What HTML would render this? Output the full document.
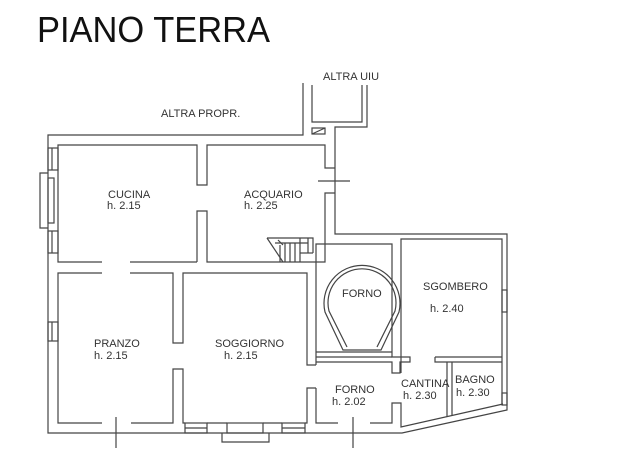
<!DOCTYPE html>
<html><head><meta charset="utf-8"><style>
html,body{margin:0;padding:0;background:#fff;}
svg{display:block;}
text{font-family:"Liberation Sans",Arial,sans-serif;fill:#333;}
.s{font-size:11px;}
</style></head><body>
<svg width="637" height="463" viewBox="0 0 637 463" xmlns="http://www.w3.org/2000/svg">
<text x="37" y="42" font-size="36" textLength="233" lengthAdjust="spacingAndGlyphs" style="fill:#111">PIANO TERRA</text>
<g fill="none" stroke="#444" stroke-width="1.2">
<!-- altra propr -->
<polyline points="303,83 303,135 48,135 48,433 402,433 507,410 507,234 335,234 335,127 367,127 367,85"/>
<polyline points="312,85 312,122 362,122 362,85"/>
<rect x="312" y="128" width="13" height="6"/><line x1="312" y1="134" x2="325" y2="128"/>
<!-- cucina -->
<polyline points="102,262 58,262 58,145 197,145 197,185 207,185 207,145 325,145 325,168 335,168"/>
<polyline points="197,262 197,211 207,211 207,262 325,262 325,193 335,193"/>
<line x1="318" y1="181" x2="350" y2="181"/>
<line x1="130" y1="262" x2="197" y2="262"/>
<!-- left windows -->
<rect x="48" y="148" width="10" height="22"/><line x1="52" y1="148" x2="52" y2="170"/>
<polyline points="48,173 40,173 40,228 48,228"/><rect x="48" y="178" width="6" height="45"/>
<rect x="48" y="231" width="10" height="22"/><line x1="52" y1="231" x2="52" y2="253"/>
<rect x="48" y="322" width="10" height="19"/><line x1="52" y1="322" x2="52" y2="341"/>
<!-- stairs -->
<polyline points="267,238 313,238 313,253"/><line x1="267" y1="238" x2="283" y2="262"/>
<line x1="278" y1="240" x2="283" y2="245"/><line x1="280" y1="245" x2="280" y2="262"/>
<line x1="285" y1="243" x2="285" y2="262"/><line x1="290" y1="243" x2="290" y2="262"/>
<line x1="295" y1="243" x2="295" y2="262"/><line x1="300" y1="238" x2="300" y2="262"/>
<line x1="275" y1="243" x2="308" y2="243"/><line x1="308" y1="238" x2="308" y2="253"/><line x1="300" y1="253" x2="313" y2="253"/>
<!-- pranzo/soggiorno -->
<polyline points="102,273 58,273 58,423 102,423"/>
<polyline points="131,423 173,423 173,369 183,369 183,423 185,423"/>
<polyline points="130,273 173,273 173,343 183,343 183,273 307,273 307,365 316,365"/>
<polyline points="316,388 307,388 307,423 305,423"/>
<rect x="185" y="423" width="22" height="10"/><line x1="185" y1="428" x2="207" y2="428"/>
<polyline points="222,433 222,442 269,442 269,433"/><rect x="227" y="423" width="36" height="10"/>
<line x1="207" y1="423" x2="227" y2="423"/><line x1="263" y1="423" x2="282" y2="423"/>
<rect x="282" y="423" width="23" height="10"/><line x1="282" y1="428" x2="305" y2="428"/>
<line x1="116" y1="417" x2="116" y2="448"/>
<line x1="353" y1="417" x2="353" y2="448"/>
<!-- forno enclosure -->
<polyline points="316,365 316,244 392,244 392,357 410,357 410,362 400,362 400,373 392,373 392,362 316,362 316,365"/>
<polyline points="316,352 392,352"/>
<line x1="316" y1="357" x2="392" y2="357"/>
<polyline points="316,388 316,423 338,423"/>
<polyline points="370,423 392,423 392,403 401,403 401,427 503,404"/>
<!-- arch -->
<path d="M343,350 L325,312 A38,38 0 1,1 399,312 L381,350 Z"/>
<path d="M347,347 L329,311 A34,34 0 1,1 395,311 L377,347"/>
<!-- sgombero -->
<polyline points="401,373 401,239 502,239 502,405"/>
<polyline points="435,357 502,357"/><polyline points="435,357 435,362 502,362"/>
<rect x="502" y="290" width="5" height="22"/><rect x="502" y="393" width="5" height="12"/>
<line x1="447" y1="362" x2="447" y2="417"/><line x1="452" y1="362" x2="452" y2="416"/>
</g>
<g class="s">
<text x="161" y="117">ALTRA PROPR.</text>
<text x="323" y="80">ALTRA UIU</text>
<text x="108" y="198">CUCINA</text><text x="107" y="209">h. 2.15</text>
<text x="244" y="198">ACQUARIO</text><text x="244" y="209">h. 2.25</text>
<text x="342" y="297">FORNO</text>
<text x="423" y="290">SGOMBERO</text><text x="430" y="312">h. 2.40</text>
<text x="94" y="347">PRANZO</text><text x="94" y="359">h. 2.15</text>
<text x="215" y="347">SOGGIORNO</text><text x="224" y="359">h. 2.15</text>
<text x="335" y="393">FORNO</text><text x="332" y="405">h. 2.02</text>
<text x="401" y="387">CANTINA</text><text x="403" y="399">h. 2.30</text>
<text x="455" y="383">BAGNO</text><text x="456" y="396">h. 2.30</text>
</g>
</svg>
</body></html>
